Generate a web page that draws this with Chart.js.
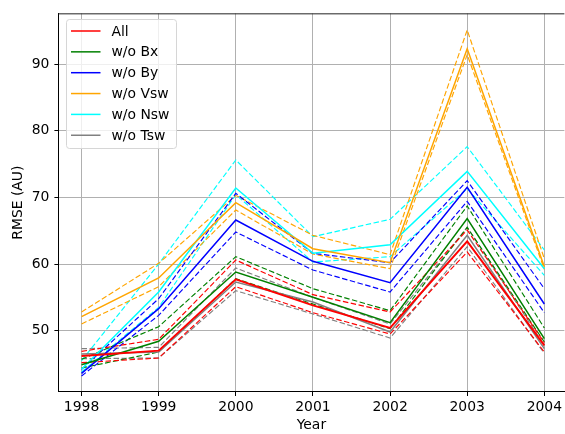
<!DOCTYPE html>
<html>
<head>
<meta charset="utf-8">
<script src="https://cdn.jsdelivr.net/npm/chart.js@4/dist/chart.umd.min.js"></script>
<style>
	html, body { margin: 0; padding: 0; background: #fff; overflow: hidden; }
	#wrap { width: 565px; height: 434px; }
</style>
</head>
<body>
<div id="wrap"><canvas id="rmseChart" width="565" height="434"></canvas></div>
<script>
// x positions (years) and the y tick values
const years = [1998, 1999, 2000, 2001, 2002, 2003, 2004];
const yTicks = [50, 60, 70, 80, 90];

// "All"
const allMean = [46.2, 47.0, 57.7, 53.8, 50.4, 63.4, 47.8];
const allUpper = [46.9, 48.7, 60.6, 55.4, 52.8, 65.1, 48.2];
const allLower = [45.2, 45.9, 56.6, 52.7, 49.5, 61.8, 46.8];

// "w/o Bx"
const bxMean = [44.9, 48.4, 58.8, 55.0, 51.2, 66.8, 48.8];
const bxUpper = [45.7, 50.6, 61.1, 56.3, 53.0, 68.7, 50.4];
const bxLower = [44.4, 46.8, 57.8, 54.0, 50.3, 65.5, 48.3];

// "w/o By"
const byMean = [43.6, 53.3, 66.6, 60.4, 57.2, 71.5, 54.0];
const byUpper = [44.2, 54.8, 70.6, 61.6, 60.2, 72.5, 56.3];
const byLower = [43.2, 52.3, 64.8, 59.1, 55.8, 69.4, 52.7];

// "w/o Vsw"
const vswMean = [52.1, 57.9, 69.2, 62.3, 60.2, 92.3, 59.6];
const vswUpper = [52.8, 60.1, 70.3, 64.3, 61.4, 95.1, 60.8];
const vswLower = [51.0, 56.6, 68.1, 61.5, 59.3, 91.4, 59.2];

// "w/o Nsw"
const nswMean = [44.2, 55.8, 71.4, 61.6, 62.9, 73.9, 59.3];
const nswUpper = [45.5, 60.0, 75.6, 64.1, 66.7, 77.6, 62.1];
const nswLower = [43.8, 53.5, 70.4, 60.3, 61.1, 71.3, 58.3];

// "w/o Tsw"
const tswMean = [46.5, 46.8, 57.3, 54.3, 49.8, 64.3, 47.3];
const tswUpper = [47.3, 47.5, 59.4, 55.0, 51.0, 65.5, 47.8];
const tswLower = [45.8, 45.9, 56.0, 52.5, 48.9, 62.6, 46.6];

const seriesNames = ["All", "w/o Bx", "w/o By", "w/o Vsw", "w/o Nsw", "w/o Tsw"];
const seriesColors = ["#ff0000", "#008000", "#0000ff", "#ffa500", "#00ffff", "#808080"];
const seriesData = [
	[allMean, allUpper, allLower],
	[bxMean, bxUpper, bxLower],
	[byMean, byUpper, byLower],
	[vswMean, vswUpper, vswLower],
	[nswMean, nswUpper, nswLower],
	[tswMean, tswUpper, tswLower],
];

const FONT = "'DejaVu Sans', sans-serif";
const FONT_SIZE = 13.9;

function toPoints(values) {
	return years.map((x, i) => ({ x, y: values[i] }));
}

// one solid line for the mean plus two dashed bounds per series
const datasets = [];
seriesData.forEach(([mean, upper, lower], s) => {
	const color = seriesColors[s];
	datasets.push({
		label: seriesNames[s],
		data: toPoints(mean),
		borderColor: color,
		borderWidth: s === 0 ? 1.9 : 1.5,
		order: s === 0 ? 0 : 10 + s,
	});
	[upper, lower].forEach((vals) => {
		datasets.push({
			label: seriesNames[s] + " bound",
			data: toPoints(vals),
			borderColor: color,
			borderWidth: 1.15,
			borderDash: [5.5, 2.5],
			order: 20 + s,
		});
	});
});

// matplotlib-like top spine + legend box in the upper left
const frameAndLegend = {
	id: "frameAndLegend",
	afterDraw(chart) {
		const { ctx, chartArea } = chart;
		ctx.save();
		ctx.strokeStyle = "#222";
		ctx.lineWidth = 1;
		ctx.beginPath();
		ctx.moveTo(chartArea.left, chartArea.top + 0.5);
		ctx.lineTo(chartArea.right, chartArea.top + 0.5);
		ctx.stroke();

		// legend frame
		const x0 = 66, y0 = 19, w = 110, h = 129, r = 3;
		ctx.beginPath();
		ctx.roundRect(x0 + 0.5, y0 + 0.5, w, h, r);
		ctx.fillStyle = "rgba(255,255,255,0.8)";
		ctx.fill();
		ctx.strokeStyle = "#d6d6d6";
		ctx.lineWidth = 1;
		ctx.stroke();

		ctx.font = `${FONT_SIZE}px ${FONT}`;
		ctx.textBaseline = "middle";
		ctx.textAlign = "left";
		seriesNames.forEach((name, i) => {
			const y = 31 + i * 20.85;
			ctx.strokeStyle = seriesColors[i];
			ctx.lineWidth = 1.5;
			ctx.beginPath();
			ctx.moveTo(71, y);
			ctx.lineTo(100.5, y);
			ctx.stroke();
			ctx.fillStyle = "#000";
			ctx.fillText(name, 111.5, y + 1);
		});
		ctx.restore();
	},
};

const ctx = document.getElementById("rmseChart").getContext("2d");
new Chart(ctx, {
	type: "line",
	data: { datasets },
	options: {
		responsive: false,
		animation: false,
		devicePixelRatio: 1,
		layout: { padding: { left: 0, top: 12, right: 0, bottom: 0 } },
		elements: {
			line: { tension: 0, fill: false },
			point: { radius: 0, hoverRadius: 0 },
		},
		scales: {
			x: {
				type: "linear",
				min: 1997.7,
				max: 2004.26,
				afterBuildTicks: (scale) => {
					scale.ticks = years.map((v) => ({ value: v }));
				},
				afterFit: (scale) => {
					scale.height = 42;
				},
				ticks: {
					color: "#000",
					padding: 3,
					maxRotation: 0,
					font: { family: FONT, size: FONT_SIZE },
					callback: (v) => String(v),
				},
				grid: { color: "#b0b0b0", lineWidth: 1, tickColor: "#000", tickLength: 4 },
				border: { color: "#000", width: 1 },
				title: {
					display: true,
					text: "Year",
					color: "#000",
					padding: { top: 0, bottom: 0 },
					font: { family: FONT, size: FONT_SIZE, lineHeight: 1.2 },
				},
			},
			y: {
				type: "linear",
				min: 40.8,
				max: 97.6,
				afterBuildTicks: (scale) => {
					scale.ticks = yTicks.map((v) => ({ value: v }));
				},
				afterFit: (scale) => {
					scale.width = 58.4;
				},
				ticks: {
					color: "#000",
					padding: 5,
					font: { family: FONT, size: FONT_SIZE },
				},
				grid: { color: "#b0b0b0", lineWidth: 1, tickColor: "#000", tickLength: 4 },
				border: { color: "#000", width: 1 },
				title: {
					display: true,
					text: "RMSE (AU)",
					color: "#000",
					padding: { top: 10.5, bottom: 0 },
					font: { family: FONT, size: FONT_SIZE, lineHeight: 1.2 },
				},
			},
		},
		plugins: {
			legend: { display: false },
			tooltip: { enabled: false },
		},
	},
	plugins: [frameAndLegend],
});
</script>
</body>
</html>
